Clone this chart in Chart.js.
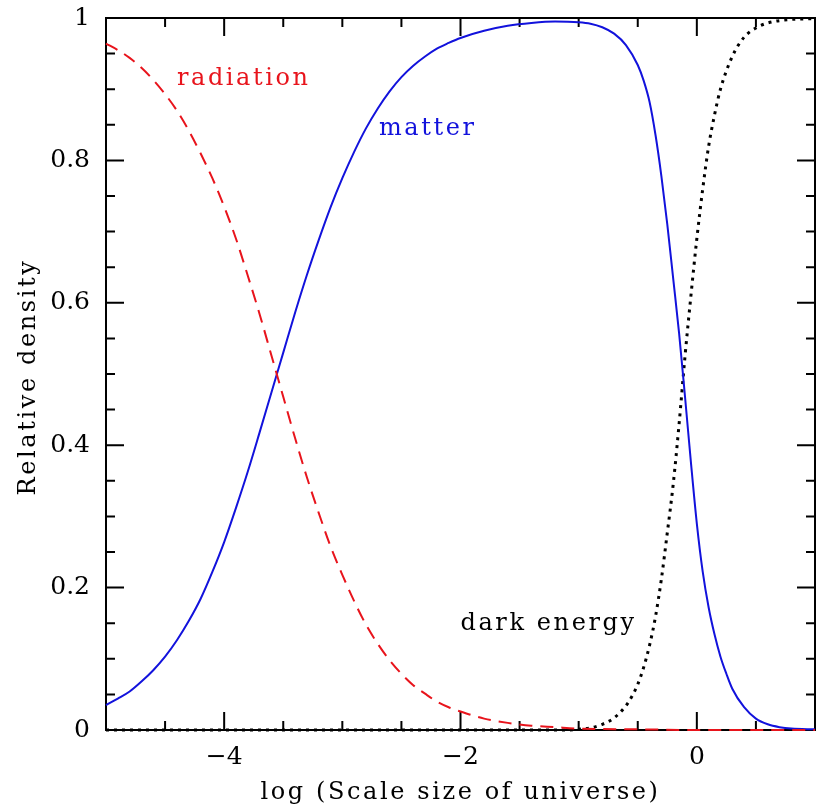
<!DOCTYPE html>
<html>
<head>
<meta charset="utf-8">
<script src="https://cdn.jsdelivr.net/npm/chart.js@4.4.1/dist/chart.umd.min.js"></script>
<style>
  html, body { margin: 0; padding: 0; background: #fff; }
  #wrap { width: 817px; height: 807px; }
</style>
</head>
<body>
<div id="wrap"><canvas id="densityChart"></canvas></div>
<script>
// log10 of the scale factor, and the fraction of the total density in each component
var radiationX = [-5, -4.9, -4.8, -4.7, -4.6, -4.5, -4.4, -4.3, -4.2, -4.1, -4.0, -3.9, -3.8, -3.7, -3.6, -3.5, -3.4, -3.3, -3.2, -3.1, -3.0, -2.9, -2.8, -2.7, -2.6, -2.5, -2.4, -2.3, -2.2, -2.1, -2.0, -1.8, -1.6, -1.4, -1.2, -1.0, -0.5, 0, 1];
var radiation  = [0.964, 0.955, 0.944, 0.930, 0.913, 0.893, 0.870, 0.842, 0.810, 0.775, 0.735, 0.690, 0.638, 0.584, 0.526, 0.468, 0.410, 0.355, 0.305, 0.258, 0.218, 0.181, 0.148, 0.121, 0.098, 0.079, 0.063, 0.051, 0.040, 0.032, 0.026, 0.016, 0.010, 0.006, 0.004, 0.002, 0.001, 0, 0];

var matterX = [-5, -4.9, -4.8, -4.7, -4.6, -4.5, -4.4, -4.3, -4.2, -4.1, -4.0, -3.9, -3.8, -3.7, -3.6, -3.5, -3.4, -3.3, -3.2, -3.1, -3.0, -2.9, -2.8, -2.7, -2.6, -2.5, -2.4, -2.3, -2.2, -2.1, -2.0, -1.8, -1.6, -1.4, -1.2, -1.0, -0.9, -0.8, -0.7, -0.6, -0.5, -0.45, -0.4, -0.35, -0.3, -0.25, -0.2, -0.15, -0.1, -0.05, 0, 0.05, 0.1, 0.15, 0.2, 0.25, 0.3, 0.4, 0.5, 0.6, 0.7, 0.8, 1.0];
var matter  = [0.035, 0.044, 0.054, 0.068, 0.084, 0.103, 0.126, 0.153, 0.184, 0.222, 0.264, 0.312, 0.363, 0.418, 0.474, 0.530, 0.586, 0.639, 0.688, 0.734, 0.775, 0.812, 0.845, 0.873, 0.897, 0.917, 0.933, 0.946, 0.957, 0.965, 0.972, 0.982, 0.989, 0.993, 0.995, 0.994, 0.992, 0.987, 0.978, 0.962, 0.934, 0.912, 0.882, 0.836, 0.778, 0.710, 0.634, 0.557, 0.468, 0.376, 0.290, 0.222, 0.172, 0.134, 0.103, 0.079, 0.058, 0.032, 0.016, 0.008, 0.004, 0.002, 0.001];

var darkX = [-5, -3, -1.1, -1.0, -0.9, -0.8, -0.7, -0.6, -0.55, -0.5, -0.45, -0.4, -0.35, -0.3, -0.25, -0.2, -0.15, -0.1, -0.05, 0, 0.05, 0.1, 0.15, 0.2, 0.3, 0.4, 0.5, 0.6, 0.8, 1.0];
var darkEnergy = [0, 0, 0, 0.001, 0.003, 0.008, 0.017, 0.034, 0.047, 0.064, 0.088, 0.119, 0.159, 0.212, 0.277, 0.345, 0.430, 0.525, 0.610, 0.690, 0.760, 0.820, 0.864, 0.900, 0.946, 0.973, 0.986, 0.993, 0.998, 0.999];

// curve labels, placed in data coordinates (left end of the baseline)
var curveLabels = [
  { text: 'radiation', x: -4.40, y: 0.906, color: '#e8141c' },
  { text: 'matter', x: -2.69, y: 0.836, color: '#1212dc' },
  { text: 'dark energy', x: -2.0, y: 0.140, color: '#000' }
];

var xTitle = 'log (Scale size of universe)';
var yTitle = 'Relative density';

function pairs(xs, ys) {
  return xs.map(function (x, i) { return { x: x, y: ys[i] }; });
}

function near(v, step) {
  return Math.abs(v / step - Math.round(v / step)) < 1e-6;
}

var SERIF = "'DejaVu Serif', 'Liberation Serif', serif";

// keep the plot box where it is regardless of tick label sizes
function noScalePadding(scale) {
  scale.paddingTop = 0;
  scale.paddingBottom = 0;
  scale.paddingLeft = 0;
  scale.paddingRight = 0;
}

// frame, inward ticks on all four sides, axis titles and curve labels
var framePlugin = {
  id: 'frame',
  beforeDatasetsDraw: function (chart) {
    var ctx = chart.ctx, a = chart.chartArea;
    var xs = chart.scales.x, ys = chart.scales.y;
    ctx.save();
    ctx.strokeStyle = '#000';
    ctx.lineWidth = 2;
    ctx.strokeRect(a.left, a.top, a.right - a.left, a.bottom - a.top);
    ctx.beginPath();
    xs.ticks.forEach(function (t) {
      var px = xs.getPixelForValue(t.value);
      var len = near(t.value, 2) ? 18 : 9;
      ctx.moveTo(px, a.bottom); ctx.lineTo(px, a.bottom - len);
      ctx.moveTo(px, a.top); ctx.lineTo(px, a.top + len);
    });
    ys.ticks.forEach(function (t) {
      var py = ys.getPixelForValue(t.value);
      var len = near(t.value, 0.2) ? 18 : 9;
      ctx.moveTo(a.left, py); ctx.lineTo(a.left + len, py);
      ctx.moveTo(a.right, py); ctx.lineTo(a.right - len, py);
    });
    ctx.stroke();
    ctx.restore();
  },
  afterDraw: function (chart) {
    var ctx = chart.ctx, a = chart.chartArea;
    var xs = chart.scales.x, ys = chart.scales.y;
    ctx.save();
    ctx.font = '24px ' + SERIF;
    ctx.letterSpacing = '2.6px';
    ctx.fillStyle = '#000';
    ctx.textAlign = 'center';
    ctx.textBaseline = 'alphabetic';
    ctx.fillText(xTitle, (a.left + a.right) / 2, 799);

    ctx.save();
    ctx.translate(35, 377);
    ctx.rotate(-Math.PI / 2);
    ctx.fillText(yTitle, 0, 0);
    ctx.restore();

    ctx.textAlign = 'left';
    curveLabels.forEach(function (l) {
      ctx.fillStyle = l.color;
      ctx.fillText(l.text, xs.getPixelForValue(l.x), ys.getPixelForValue(l.y));
    });
    ctx.restore();
  }
};

var ctx = document.getElementById('densityChart').getContext('2d');
var densityChart = new Chart(ctx, {
  type: 'line',
  data: {
    datasets: [{
      label: 'radiation',
      data: pairs(radiationX, radiation),
      borderColor: '#e8141c',
      borderWidth: 2,
      borderDash: [13, 8],
      cubicInterpolationMode: 'monotone',
      pointRadius: 0,
      clip: 6
    }, {
      label: 'matter',
      data: pairs(matterX, matter),
      borderColor: '#1212dc',
      borderWidth: 2,
      cubicInterpolationMode: 'monotone',
      pointRadius: 0,
      clip: 6
    }, {
      label: 'dark energy',
      data: pairs(darkX, darkEnergy),
      borderColor: '#000',
      borderWidth: 3,
      borderDash: [3, 5],
      cubicInterpolationMode: 'monotone',
      pointRadius: 0,
      clip: 6
    }]
  },
  options: {
    responsive: true,
    maintainAspectRatio: false,
    animation: false,
    layout: { padding: { top: 18, right: 2, left: 0, bottom: 0 } },
    plugins: {
      legend: { display: false },
      tooltip: { enabled: false }
    },
    scales: {
      x: {
        type: 'linear',
        min: -5,
        max: 1,
        grid: { display: false, drawTicks: false },
        border: { display: false },
        afterFit: function (scale) { scale.height = 77; noScalePadding(scale); },
        ticks: {
          stepSize: 0.5,
          autoSkip: false,
          maxRotation: 0,
          padding: 12,
          color: '#000',
          font: { family: SERIF, size: 25 },
          callback: function (v) {
            if (!near(v, 2)) return '';
            return v < 0 ? '\u2212' + Math.abs(v) : String(v);
          }
        }
      },
      y: {
        min: 0,
        max: 1,
        grid: { display: false, drawTicks: false },
        border: { display: false },
        afterFit: function (scale) { scale.width = 106; noScalePadding(scale); },
        ticks: {
          stepSize: 0.05,
          autoSkip: false,
          padding: 16,
          color: '#000',
          font: { family: SERIF, size: 25 },
          callback: function (v) {
            if (!near(v, 0.2)) return '';
            if (near(v, 1)) return String(Math.round(v));
            return v.toFixed(1);
          }
        }
      }
    }
  },
  plugins: [framePlugin]
});
</script>
</body>
</html>
